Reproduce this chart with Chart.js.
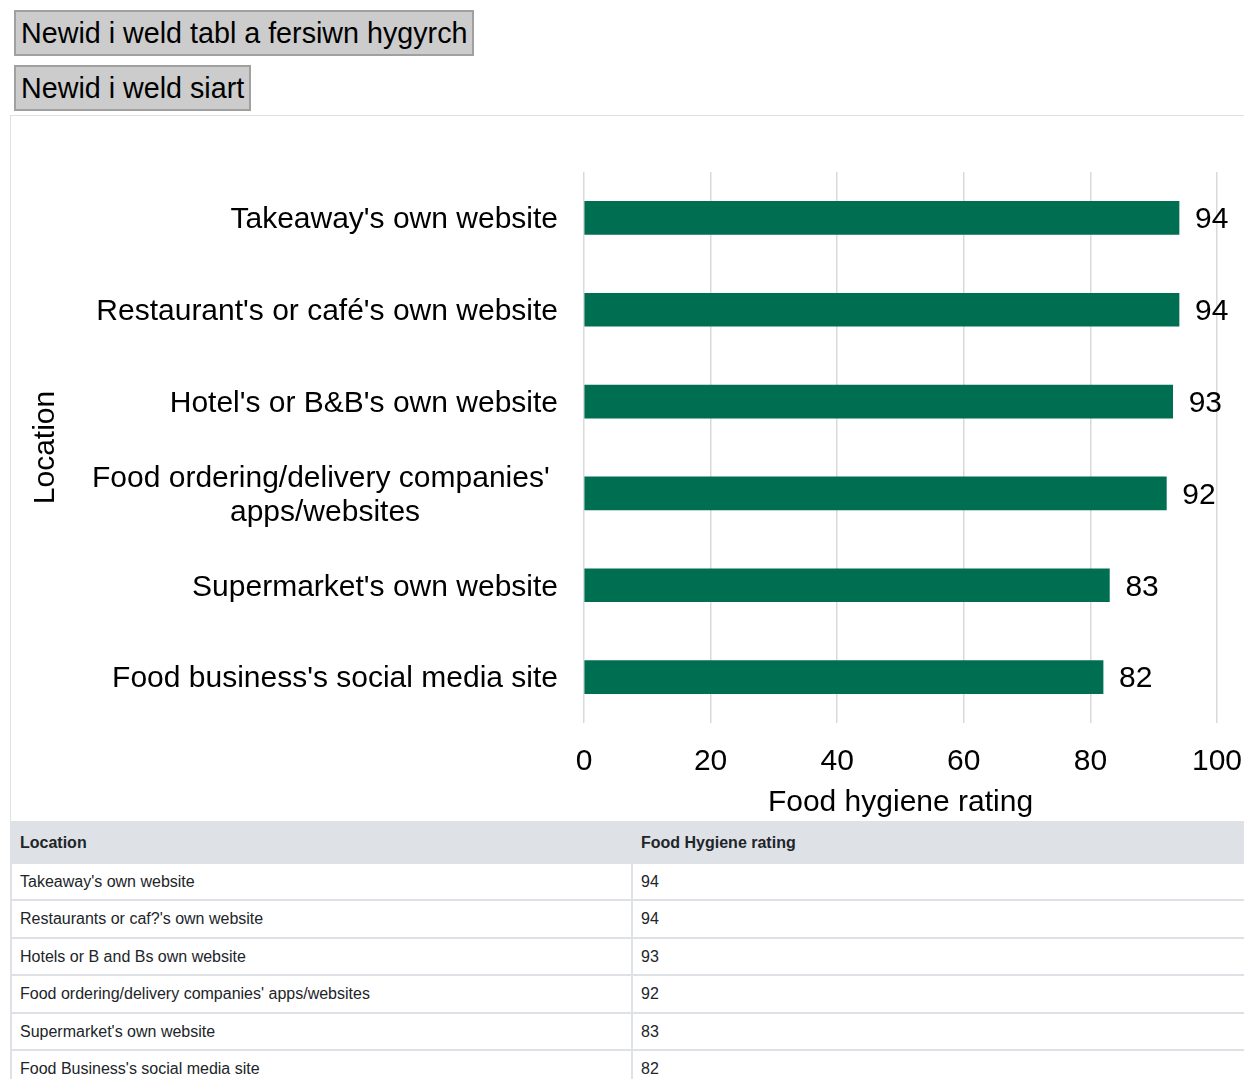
<!DOCTYPE html>
<html lang="cy">

<head>
    <meta charset="UTF-8">
    <meta name="viewport" content="width=device-width, initial-scale=1.0">
    <title>Food hygiene rating</title>
    <script src="https://cdn.jsdelivr.net/npm/chart.js"></script>
    <style>
        body {
            font-family: "Liberation Sans", Arial, sans-serif;
            margin: 0;
            padding: 0;
            background: #fff;
            overflow: hidden;
        }

        .toggle {
            display: block;
            margin: 0 0 9px 14px;
            font-family: inherit;
            font-size: 28.7px;
            line-height: 32px;
            padding: 5px 5px;
            background: #cccccc;
            border: 2px solid #a0a0a0;
            color: #000;
        }

        .toggle:first-child {
            margin-top: 10px;
        }

        .wrap {
            margin-left: 10px;
            width: 1244px;
        }

        .chart-box {
            border: 1px solid #e0e0e0;
            height: 705px;
            position: relative;
            margin-top: -5px;
        }

        table {
            width: 100%;
            border-collapse: collapse;
            font-size: 16px;
            color: #212529;
            table-layout: fixed;
        }

        th, td {
            text-align: left;
            padding: 9px 9px 9px 8px;
            border: 2px solid #dee2e6;
            line-height: 17.4px;
        }

        th {
            background: #dee2e6;
            padding: 10px 9px 10px 8px;
            line-height: 18px;
        }
    </style>
</head>

<body>
    <button class="toggle">Newid i weld tabl a fersiwn hygyrch</button>
    <button class="toggle">Newid i weld siart</button>

    <div class="wrap">
        <div class="chart-box">
            <canvas id="hygieneChart"></canvas>
        </div>
        <table>
            <thead>
                <tr><th id="colA"></th><th id="colB"></th></tr>
            </thead>
            <tbody id="tableBody"></tbody>
        </table>
    </div>

    <script>
        // Categories and values
        const locations = [
            "Takeaway's own website",
            "Restaurant's or café's own website",
            "Hotel's or B&B's own website",
            ["Food ordering/delivery companies' ", "apps/websites"],
            "Supermarket's own website",
            "Food business's social media site"
        ];
        const ratings = [94, 94, 93, 92, 83, 82];

        // Names as they appear in the table version
        const tableLocations = [
            "Takeaway's own website",
            "Restaurants or caf?'s own website",
            "Hotels or B and Bs own website",
            "Food ordering/delivery companies' apps/websites",
            "Supermarket's own website",
            "Food Business's social media site"
        ];
        const tableHeaders = ['Location', 'Food Hygiene rating'];

        const xMin = 0;
        const xMax = 100;
        const xStep = 20;

        const barColor = '#006e51';
        const fontFamily = '"Liberation Sans", Arial, sans-serif';

        // Table
        document.getElementById('colA').textContent = tableHeaders[0];
        document.getElementById('colB').textContent = tableHeaders[1];
        const tbody = document.getElementById('tableBody');
        tableLocations.forEach((loc, i) => {
            const tr = document.createElement('tr');
            const a = document.createElement('td');
            const b = document.createElement('td');
            a.textContent = loc;
            b.textContent = ratings[i];
            tr.appendChild(a);
            tr.appendChild(b);
            tbody.appendChild(tr);
        });

        // Category labels: single lines right aligned, wrapped ones centred in their block
        const categoryLabels = {
            id: 'categoryLabels',
            afterDraw(chart) {
                const ctx = chart.ctx;
                const yScale = chart.scales.y;
                const right = chart.chartArea.left - 26;
                ctx.save();
                ctx.font = '30px ' + fontFamily;
                ctx.fillStyle = '#000';
                ctx.textBaseline = 'middle';
                chart.data.labels.forEach((label, i) => {
                    const y = yScale.getPixelForValue(i) + 2;
                    if (Array.isArray(label)) {
                        const w = Math.max(...label.map(l => ctx.measureText(l).width));
                        const cx = right - w / 2;
                        const lh = 34;
                        ctx.textAlign = 'center';
                        label.forEach((line, j) => {
                            ctx.fillText(line, cx, y + (j - (label.length - 1) / 2) * lh);
                        });
                    } else {
                        ctx.textAlign = 'right';
                        ctx.fillText(label, right, y);
                    }
                });
                ctx.restore();
            }
        };

        // Value at the end of each bar
        const valueLabels = {
            id: 'valueLabels',
            afterDatasetsDraw(chart) {
                const ctx = chart.ctx;
                const meta = chart.getDatasetMeta(0);
                ctx.save();
                ctx.font = '30px ' + fontFamily;
                ctx.fillStyle = '#000';
                ctx.textAlign = 'left';
                ctx.textBaseline = 'middle';
                meta.data.forEach((bar, i) => {
                    ctx.fillText(String(chart.data.datasets[0].data[i]), bar.x + 16, bar.y + 2);
                });
                ctx.restore();
            }
        };

        const ctx = document.getElementById('hygieneChart').getContext('2d');
        new Chart(ctx, {
            type: 'bar',
            data: {
                labels: locations,
                datasets: [{
                    label: 'Food hygiene rating',
                    data: ratings,
                    backgroundColor: barColor,
                    borderWidth: 0,
                    barThickness: 33
                }]
            },
            options: {
                indexAxis: 'y',
                responsive: true,
                maintainAspectRatio: false,
                animation: false,
                layout: {
                    padding: { top: 56, right: 36, left: 0, bottom: 0 }
                },
                plugins: {
                    legend: { display: false },
                    tooltip: { enabled: false }
                },
                scales: {
                    x: {
                        min: xMin,
                        max: xMax,
                        afterFit: s => { s.height = 98; s.paddingRight = 0; },
                        ticks: {
                            stepSize: xStep,
                            padding: 21,
                            color: '#000',
                            font: { size: 30, family: fontFamily }
                        },
                        grid: {
                            color: '#d9d9d9',
                            lineWidth: 1.5,
                            drawTicks: false
                        },
                        border: { display: false },
                        title: {
                            display: true,
                            text: 'Food hygiene rating',
                            color: '#000',
                            padding: { top: 0, bottom: 0 },
                            font: { size: 30, family: fontFamily }
                        }
                    },
                    y: {
                        afterFit: s => { s.width = 573; },
                        ticks: { display: false },
                        grid: { display: false },
                        border: { display: false },
                        title: {
                            display: true,
                            text: 'Location',
                            color: '#000',
                            padding: { top: 17, bottom: 0 },
                            font: { size: 30, family: fontFamily }
                        }
                    }
                }
            },
            plugins: [categoryLabels, valueLabels]
        });
    </script>
</body>

</html>
